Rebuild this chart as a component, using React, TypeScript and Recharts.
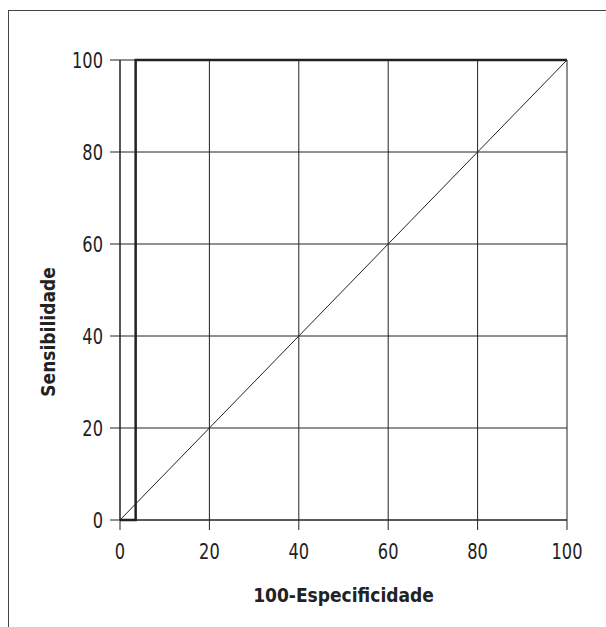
import { LineChart, Line, XAxis, YAxis, CartesianGrid } from 'recharts'

const ticks = [0, 20, 40, 60, 80, 100]

// ROC curve points (100 - specificity, sensitivity)
const rocX = [0, 3.5, 3.5, 100]
const rocY = [0, 0, 100, 100]

// reference (chance) line
const diagX = [0, 100]
const diagY = [0, 100]

const rocData = rocX.map((x, i) => ({ x, y: rocY[i] }))
const diagData = diagX.map((x, i) => ({ x, y: diagY[i] }))

const font = '"DejaVu Sans Condensed", "DejaVu Sans", sans-serif'
const ink = '#222'

// narrow tick labels: squeeze the glyphs horizontally
function XTick({ x, y, payload }: any) {
  return (
    <g transform={`translate(${x},${y})`}>
      <text transform="scale(0.82,1)" textAnchor="middle" dy="0.72em" fill={ink} fontSize={22} fontFamily={font}>
        {payload.value}
      </text>
    </g>
  )
}

function YTick({ x, y, payload }: any) {
  return (
    <g transform={`translate(${x},${y})`}>
      <text transform="scale(0.82,1)" textAnchor="end" dy="0.36em" fill={ink} fontSize={22} fontFamily={font}>
        {payload.value}
      </text>
    </g>
  )
}

function YTitle() {
  return (
    <text
      transform="translate(55,332) rotate(-90)"
      textAnchor="middle"
      fill={ink}
      fontSize={19}
      fontWeight="bold"
      fontFamily={font}
    >
      Sensibilidade
    </text>
  )
}

export default function App() {
  return (
    <div style={{ position: 'absolute', left: 0, top: 0, width: 606, height: 627, background: '#fff' }}>
      <div
        style={{
          position: 'absolute',
          left: 8,
          top: 10,
          width: 598,
          height: 617,
          borderTop: '1.5px solid #444',
          borderLeft: '1.5px solid #444',
        }}
      />
      <LineChart
        width={606}
        height={627}
        margin={{ top: 60, right: 39, bottom: 27, left: 20 }}
        style={{ position: 'absolute', left: 0, top: 0 }}
      >
        <CartesianGrid stroke={ink} strokeWidth={1} />
        <XAxis
          type="number"
          dataKey="x"
          domain={[0, 100]}
          ticks={ticks}
          allowDuplicatedCategory={false}
          height={80}
          tickSize={10}
          tickMargin={13}
          stroke={ink}
          tick={<XTick />}
          label={{
            value: '100-Especificidade',
            position: 'insideBottom',
            offset: -2,
            style: { fill: ink, fontSize: 19, fontWeight: 'bold', fontFamily: font },
          }}
        />
        <YAxis
          type="number"
          dataKey="y"
          domain={[0, 100]}
          ticks={ticks}
          width={100}
          tickSize={10}
          tickMargin={7}
          stroke={ink}
          tick={<YTick />}
          label={<YTitle />}
        />
        <Line
          data={diagData}
          dataKey="y"
          stroke={ink}
          strokeWidth={1}
          dot={false}
          isAnimationActive={false}
        />
        <Line
          data={rocData}
          dataKey="y"
          stroke={ink}
          strokeWidth={2.5}
          dot={false}
          isAnimationActive={false}
        />
      </LineChart>
    </div>
  )
}
